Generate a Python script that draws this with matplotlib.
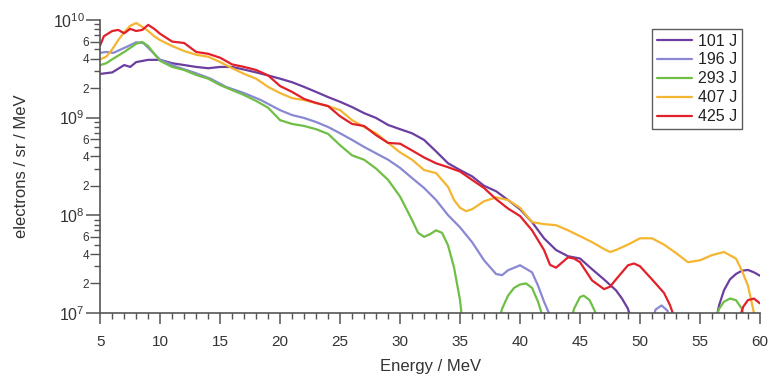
import matplotlib
matplotlib.use("Agg")
import matplotlib.pyplot as plt
import numpy as np
from matplotlib.ticker import FixedLocator, FuncFormatter, MultipleLocator, NullLocator, NullFormatter

plt.rcParams['font.family'] = ['Liberation Sans', 'DejaVu Sans']
plt.rcParams['mathtext.fontset'] = 'custom'
plt.rcParams['mathtext.rm'] = 'Liberation Sans'
plt.rcParams['mathtext.it'] = 'Liberation Sans:italic'
plt.rcParams['mathtext.bf'] = 'Liberation Sans:bold'

labels = ["101 J", "196 J", "293 J", "407 J", "425 J"]
colors = ["#6a3fa0", "#8a88d2", "#6fbe45", "#f4b630", "#e2202a"]

# 101 J
e101 = [5, 6, 7, 7.5, 8, 9, 10, 11, 12, 13, 14, 15, 16, 17, 18, 19, 20, 21, 22, 23, 24, 25, 26, 27, 28,
        29, 30, 31, 32, 33, 34, 35, 36, 37, 38, 39, 40, 41, 42, 43, 44, 45, 46, 47, 48, 48.5, 49, 49.3]
v101 = [2.8e9, 2.9e9, 3.45e9, 3.3e9, 3.7e9, 3.9e9, 3.9e9, 3.6e9, 3.45e9, 3.3e9, 3.2e9, 3.3e9, 3.3e9,
        3.1e9, 2.9e9, 2.7e9, 2.5e9, 2.3e9, 2.06e9, 1.83e9, 1.62e9, 1.45e9, 1.28e9, 1.11e9, 9.9e8,
        8.4e8, 7.6e8, 6.9e8, 5.9e8, 4.5e8, 3.4e8, 2.9e8, 2.5e8, 2.0e8, 1.76e8, 1.43e8, 1.15e8, 8.5e7,
        5.8e7, 4.4e7, 3.8e7, 3.6e7, 2.8e7, 2.2e7, 1.7e7, 1.4e7, 1.1e7, 8e6]
e101b = [56.3, 56.6, 57, 57.5, 58, 58.5, 59, 59.5, 60]
v101b = [8e6, 1.2e7, 1.7e7, 2.2e7, 2.5e7, 2.7e7, 2.75e7, 2.6e7, 2.4e7]

# 196 J
e196 = [5, 5.5, 6.1, 7.2, 8, 8.6, 9.2, 10, 11.4, 12.8, 14.2, 15.5, 17, 18.4, 19.5, 20, 21, 22, 23, 24,
        25, 26, 27, 28, 29, 30, 31, 32, 33, 34, 35, 36, 37, 38, 38.5, 39, 40, 41, 41.5, 42, 42.4, 42.6]
v196 = [4.6e9, 4.7e9, 4.6e9, 5.3e9, 5.9e9, 5.8e9, 4.9e9, 3.9e9, 3.3e9, 2.9e9, 2.5e9, 2.06e9, 1.78e9,
        1.51e9, 1.28e9, 1.19e9, 1.06e9, 9.9e8, 9.0e8, 8.0e8, 6.9e8, 5.9e8, 5.0e8, 4.3e8, 3.7e8,
        3.05e8, 2.4e8, 1.9e8, 1.43e8, 1.0e8, 7.5e7, 5.3e7, 3.45e7, 2.5e7, 2.43e7, 2.73e7, 3.07e7,
        2.6e7, 1.9e7, 1.3e7, 1.0e7, 6e6]
e196b = [51.0, 51.3, 51.8, 52.3, 52.5]
v196b = [8e6, 1.08e7, 1.19e7, 1.05e7, 8e6]

# 293 J
e293 = [5, 5.5, 6, 7, 8, 8.5, 9, 9.5, 10, 11, 12, 13, 14, 15, 16, 17, 18, 19, 20, 21, 22, 23, 24, 25,
        26, 27, 28, 29, 30, 31, 31.5, 32, 32.5, 33, 33.5, 34, 34.5, 35, 35.3]
v293 = [3.45e9, 3.6e9, 3.95e9, 4.7e9, 5.7e9, 5.95e9, 5.4e9, 4.5e9, 3.8e9, 3.3e9, 3.07e9, 2.73e9,
        2.5e9, 2.15e9, 1.91e9, 1.7e9, 1.48e9, 1.26e9, 9.4e8, 8.6e8, 8.2e8, 7.6e8, 6.8e8, 5.2e8,
        4.1e8, 3.7e8, 3.0e8, 2.3e8, 1.55e8, 8.9e7, 6.6e7, 6.0e7, 6.4e7, 7.0e7, 6.6e7, 4.9e7, 2.9e7,
        1.34e7, 6e6]
e293b = [38.2, 38.5, 39, 39.5, 40, 40.5, 41, 41.5, 41.9, 42.1]
v293b = [8e6, 1.1e7, 1.5e7, 1.8e7, 1.95e7, 2.0e7, 1.8e7, 1.3e7, 9e6, 6e6]
e293c = [44.2, 44.5, 45, 45.3, 45.8, 46.3, 46.6]
v293c = [8e6, 1.1e7, 1.45e7, 1.5e7, 1.35e7, 1.0e7, 7e6]
e293d = [56.2, 56.6, 57, 57.5, 58, 58.5, 58.9]
v293d = [8e6, 1.1e7, 1.3e7, 1.4e7, 1.35e7, 1.1e7, 7e6]

# 407 J
e407 = [5, 5.5, 6, 6.5, 7, 7.5, 8, 8.5, 9, 9.5, 10, 11, 12, 13, 14, 15, 16, 17, 18, 19, 20, 21, 22, 23,
        24, 25, 26, 27, 28, 29, 30, 31, 32, 33, 34, 34.5, 35, 35.5, 36, 37, 38, 39, 40, 41, 42, 43,
        44, 45, 46, 47, 47.5, 48, 49, 50, 51, 52, 53, 54, 55, 56, 57, 58, 58.5, 59, 59.5, 59.7]
v407 = [3.95e9, 4.2e9, 5.0e9, 6.2e9, 7.5e9, 8.7e9, 9.3e9, 8.5e9, 7.7e9, 6.8e9, 6.2e9, 5.4e9, 4.8e9,
        4.4e9, 4.2e9, 3.7e9, 3.2e9, 2.8e9, 2.5e9, 2.06e9, 1.78e9, 1.58e9, 1.51e9, 1.41e9, 1.31e9,
        1.19e9, 9.4e8, 8.0e8, 6.9e8, 5.5e8, 4.4e8, 3.7e8, 2.9e8, 2.7e8, 1.95e8, 1.43e8, 1.19e8,
        1.1e8, 1.15e8, 1.39e8, 1.52e8, 1.43e8, 1.19e8, 8.5e7, 8.1e7, 7.9e7, 7.0e7, 6.1e7, 5.3e7,
        4.5e7, 4.2e7, 4.4e7, 5.0e7, 5.8e7, 5.8e7, 5.0e7, 4.1e7, 3.3e7, 3.45e7, 3.9e7, 4.2e7, 3.6e7,
        2.7e7, 1.9e7, 1.0e7, 5e6]

# 425 J
e425 = [5, 5.3, 6, 6.5, 7, 7.5, 8, 8.5, 9, 9.5, 10, 11, 12, 13, 14, 15, 16, 17, 18, 19, 20, 21, 22, 23,
        24, 25, 26, 27, 28, 29, 30, 31, 32, 33, 34, 35, 36, 37, 38, 39, 40, 41, 42, 42.5, 43, 44,
        44.5, 45, 46, 47, 47.5, 48, 49, 49.5, 50, 51, 52, 52.5, 53, 53.3]
v425 = [5.5e9, 6.8e9, 7.7e9, 7.9e9, 7.3e9, 8.1e9, 7.7e9, 7.9e9, 8.9e9, 8.1e9, 7.2e9, 6.0e9, 5.8e9,
        4.7e9, 4.5e9, 4.1e9, 3.5e9, 3.3e9, 3.07e9, 2.7e9, 2.1e9, 1.83e9, 1.55e9, 1.41e9, 1.31e9,
        1.03e9, 8.6e8, 8.2e8, 6.6e8, 5.5e8, 5.4e8, 4.6e8, 3.9e8, 3.4e8, 3.1e8, 2.8e8, 2.3e8, 1.9e8,
        1.46e8, 1.17e8, 9.8e7, 7.0e7, 4.4e7, 3.1e7, 2.9e7, 3.7e7, 3.6e7, 3.3e7, 2.15e7, 1.75e7,
        1.85e7, 2.2e7, 3.07e7, 3.2e7, 3.0e7, 2.2e7, 1.6e7, 1.2e7, 8e6, 5e6]
e425b = [58.2, 58.6, 59, 59.5, 60]
v425b = [8e6, 1.15e7, 1.35e7, 1.4e7, 1.25e7]

series = [
    [(e101, v101), (e101b, v101b)],
    [(e196, v196), (e196b, v196b)],
    [(e293, v293), (e293b, v293b), (e293c, v293c), (e293d, v293d)],
    [(e407, v407)],
    [(e425, v425), (e425b, v425b)],
]

fig = plt.figure(figsize=(7.68, 3.76), dpi=100)
ax = fig.add_axes([0.1305, 0.168, 0.859, 0.779])

for lab, col, parts in zip(labels, colors, series):
    for i, (e, v) in enumerate(parts):
        ax.plot(e, v, color=col, lw=1.6, label=lab if i == 0 else None,
                solid_joinstyle='round', solid_capstyle='round')

ax.set_yscale('log')
ax.set_xlim(5, 60)
ax.set_ylim(1e7, 1e10)

spine_col = "#555555"
txt_col = "#333333"
for s in ['top', 'right']:
    ax.spines[s].set_visible(False)
for s in ['left', 'bottom']:
    ax.spines[s].set_color(spine_col)
    ax.spines[s].set_linewidth(1.2)

decades = [1e7, 1e8, 1e9, 1e10]
ax.xaxis.set_major_locator(MultipleLocator(5))
ax.xaxis.set_minor_locator(MultipleLocator(1))
ax.yaxis.set_major_locator(FixedLocator(decades))
ax.yaxis.set_minor_locator(FixedLocator([m * d for d in decades[:-1] for m in (2, 4, 6)]))

def major_fmt(v, pos):
    return r'$\mathregular{10^{%d}}$' % int(round(np.log10(v)))

def minor_fmt(v, pos):
    m = int(round(v / 10 ** np.floor(np.log10(v) + 1e-9)))
    return str(m)

ax.yaxis.set_major_formatter(FuncFormatter(major_fmt))
ax.yaxis.set_minor_formatter(FuncFormatter(minor_fmt))

ax.tick_params(axis='x', which='major', direction='out', length=8, width=1.1,
               color=spine_col, labelcolor=txt_col, labelsize=11, pad=8)
ax.tick_params(axis='x', which='minor', direction='out', length=4.5, width=1.0, color=spine_col)
ax.tick_params(axis='y', which='major', direction='out', length=10, width=1.1,
               color=spine_col, labelcolor=txt_col, labelsize=11.5, pad=1)
ax.tick_params(axis='y', which='minor', direction='out', length=7, width=1.0,
               color=spine_col, labelcolor=txt_col, labelsize=8.5, pad=1)

# short unlabelled minor ticks (3, 5, 7, 8, 9 of each decade)
ax2 = ax.twinx()
ax2.set_yscale('log')
ax2.set_ylim(ax.get_ylim())
for s in ax2.spines.values():
    s.set_visible(False)
ax2.yaxis.set_ticks_position('left')
ax2.yaxis.set_major_locator(NullLocator())
ax2.yaxis.set_minor_locator(FixedLocator([m * d for d in decades[:-1] for m in (3, 5, 7, 8, 9)]))
ax2.yaxis.set_minor_formatter(NullFormatter())
ax2.tick_params(axis='y', which='minor', direction='out', length=4.5, width=1.0, color=spine_col)

ax.set_xlabel("Energy / MeV", fontsize=12, color=txt_col)
ax.set_ylabel("electrons / sr / MeV", fontsize=12, color=txt_col)
ax.xaxis.set_label_coords(0.5, -0.158)
ax.yaxis.set_label_coords(-0.108, 0.5)

leg = ax.legend(loc='upper right', bbox_to_anchor=(0.973, 0.97), frameon=True, fancybox=False,
                fontsize=11.5, handlelength=2.2, handletextpad=0.4, borderpad=0.3,
                labelspacing=0.25, borderaxespad=0)
leg.get_frame().set_edgecolor('#333333')
leg.get_frame().set_linewidth(1.0)
for t in leg.get_texts():
    t.set_color('#222222')

fig.savefig("out.png", dpi=100)
